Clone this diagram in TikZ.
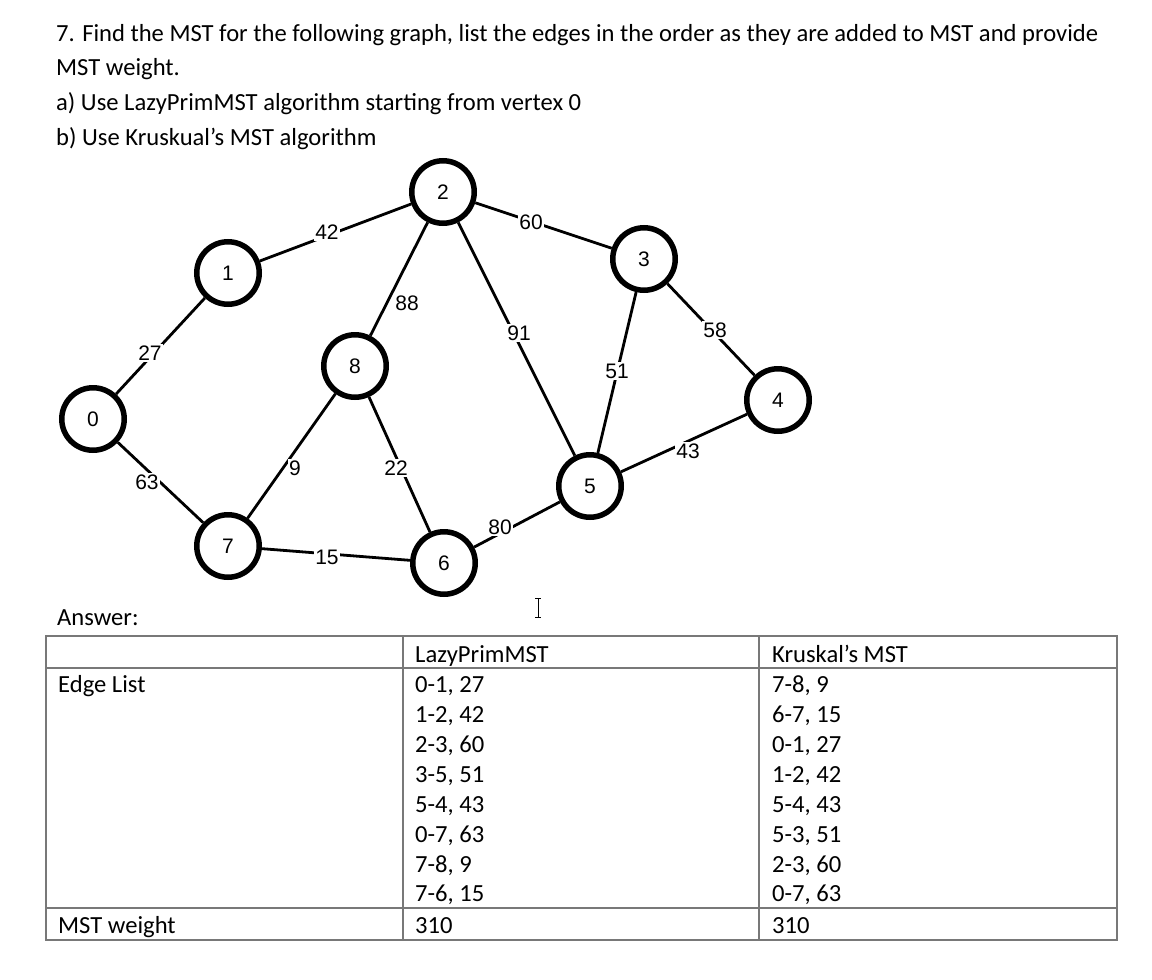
\documentclass[tikz,border=0pt]{standalone}
\usepackage{fontspec}
\setmainfont{Carlito}
\newfontfamily\graphfont{Liberation Sans}
\begin{document}
\begin{tikzpicture}[x=1pt,y=-1pt,
  vtx/.style={circle, draw=black, line width=5.5pt, minimum size=62.5pt, inner sep=0pt, font=\graphfont\fontsize{21}{21}\selectfont},
  wlbl/.style={fill=white, inner sep=1.5pt, font=\graphfont\fontsize{21}{21}\selectfont},
  edg/.style={line width=2.8pt, black},
  txt/.style={anchor=base west, inner sep=0pt, font=\fontsize{24.6}{30}\selectfont},
  tbl/.style={line width=2pt, draw={rgb,255:red,120;green,120;blue,120}},
]
\fill[white] (0,0) rectangle (1152,980);
\useasboundingbox (0,0) rectangle (1152,980);

% question text
\node[txt] (q1) at (56,41) {7. Find the MST for the following graph, list the edges in the order as they are added to MST and provide};
\node[txt] (q2) at (56,75) {MST weight.};
\node[txt] (q3) at (56,110) {a) Use LazyPrimMST algorithm starting from vertex 0};
\node[txt] (q4) at (56,145) {b) Use Kruskual’s MST algorithm};

% vertices
\node[vtx] (v0) at (93,419) {0};
\node[vtx] (v1) at (228,273) {1};
\node[vtx] (v2) at (443,192) {2};
\node[vtx] (v3) at (644,259) {3};
\node[vtx] (v4) at (778,400) {4};
\node[vtx] (v5) at (590,486) {5};
\node[vtx] (v6) at (444,563) {6};
\node[vtx] (v7) at (228,546) {7};
\node[vtx] (v8) at (355,366) {8};

% edges
\draw[edg] (v0) -- (v1);
\draw[edg] (v1) -- (v2);
\draw[edg] (v2) -- (v8);
\draw[edg] (v2) -- (v3);
\draw[edg] (v2) -- (v5);
\draw[edg] (v3) -- (v5);
\draw[edg] (v3) -- (v4);
\draw[edg] (v5) -- (v4);
\draw[edg] (v6) -- (v5);
\draw[edg] (v0) -- (v7);
\draw[edg] (v7) -- (v8);
\draw[edg] (v8) -- (v6);
\draw[edg] (v7) -- (v6);

% edge weights
\node[wlbl] (w01) at (150,353) {27};
\node[wlbl] (w12) at (327,232) {42};
\node[wlbl] (w28) at (407,303) {88};
\node[wlbl] (w23) at (531,222) {60};
\node[wlbl] (w25) at (519,333) {91};
\node[wlbl] (w35) at (617,371) {51};
\node[wlbl] (w34) at (715,330) {58};
\node[wlbl] (w54) at (688,451) {43};
\node[wlbl] (w65) at (500,527) {80};
\node[wlbl] (w07) at (147,482) {63};
\node[wlbl] (w78) at (295,468) {9};
\node[wlbl] (w86) at (396,468) {22};
\node[wlbl] (w76) at (327,557) {15};

% text cursor
\draw[line width=1pt] (535,598) -- (541,598) (538,598) -- (538,617) (535,617) -- (541,617);

% answer
\node[txt] (ans) at (57,625) {Answer:};

% table
\draw[tbl] (46,636) rectangle (1117,940);
\draw[tbl] (46,668) -- (1117,668);
\draw[tbl] (46,908) -- (1117,908);
\draw[tbl] (403,636) -- (403,940);
\draw[tbl] (759,636) -- (759,940);

\node[txt] (h2) at (415,662) {LazyPrimMST};
\node[txt] (h3) at (772,662) {Kruskal’s MST};
\node[txt] (c1) at (58,692) {Edge List};
\node[txt] (c1w) at (58,933) {MST weight};

\node[txt] (p1) at (415,692) {0-1, 27};
\node[txt] (p2) at (415,722) {1-2, 42};
\node[txt] (p3) at (415,752) {2-3, 60};
\node[txt] (p4) at (415,782) {3-5, 51};
\node[txt] (p5) at (415,812) {5-4, 43};
\node[txt] (p6) at (415,842) {0-7, 63};
\node[txt] (p7) at (415,872) {7-8, 9};
\node[txt] (p8) at (415,901) {7-6, 15};
\node[txt] (pw) at (415,933) {310};

\node[txt] (k1) at (772,692) {7-8, 9};
\node[txt] (k2) at (772,722) {6-7, 15};
\node[txt] (k3) at (772,752) {0-1, 27};
\node[txt] (k4) at (772,782) {1-2, 42};
\node[txt] (k5) at (772,812) {5-4, 43};
\node[txt] (k6) at (772,842) {5-3, 51};
\node[txt] (k7) at (772,872) {2-3, 60};
\node[txt] (k8) at (772,901) {0-7, 63};
\node[txt] (kw) at (772,933) {310};
\end{tikzpicture}
\end{document}
